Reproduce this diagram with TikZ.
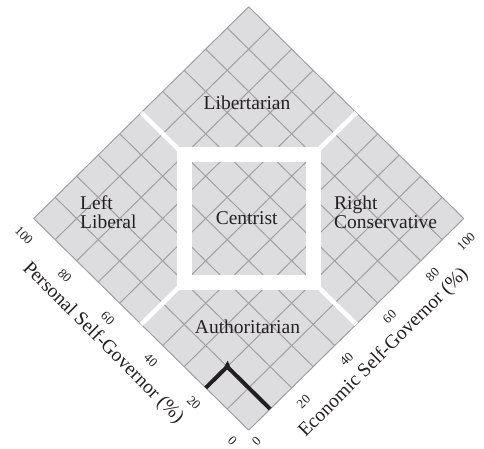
\documentclass[tikz,border=0pt]{standalone}
\usepackage{fontspec}
\setmainfont{Liberation Serif}
\usepackage[rgb]{xcolor}
\usetikzlibrary{positioning}
\definecolor{chartfill}{RGB}{221,221,223}
\definecolor{gridgray}{RGB}{160,160,162}
\definecolor{inkblack}{RGB}{35,31,32}

\begin{document}
\begin{tikzpicture}[x=1bp,y=1bp,
    region/.style={inner sep=0pt, text=inkblack, font=\fontsize{19.5bp}{18.5bp}\selectfont},
    ticklabel/.style={inner sep=0pt, text=inkblack, font=\fontsize{13bp}{13bp}\selectfont},
    axistitle/.style={inner sep=0pt, text=inkblack, font=\fontsize{19.5bp}{20bp}\selectfont},
    gridline/.style={draw=gridgray, line width=1bp},
    gap/.style={draw=white, line width=4.5bp}]
    \useasboundingbox (0,0) rectangle (484,449);
    \coordinate (o) at (248.7,18.8);
    % chart in (economic, personal) units
    \begin{scope}[shift={(o)}, x={(21.5bp,21.17bp)}, y={(-21.5bp,21.17bp)}]
        \fill[chartfill] (0,0) -- (10,0) -- (10,10) -- (0,10) -- cycle;
        \foreach \i in {0,...,10}{
            \draw[gridline] (\i,0) -- (\i,10);
            \draw[gridline] (0,\i) -- (10,\i);
        }
        % centrist box and borders
        \draw[gap, line width=15bp, line join=miter] (5,8) -- (8,5) -- (5,2) -- (2,5) -- cycle;
        \draw[gap] (5,8) -- (5,10);
        \draw[gap] (8,5) -- (10,5);
        \draw[gap] (5,2) -- (5,0);
        \draw[gap] (2,5) -- (0,5);
        % scale numbers (s = shift along the edge, d = distance out)
        \foreach \t/\s/\d [evaluate=\t as \lab using int(10*\t)] in {0/0.2/0.63,2/0/0.63,4/0/0.63,6/0/0.63,8/0/0.63,10/-0.1/0.63}{
            \node[ticklabel, rotate=-45] at (-\d,\t-0.075+\s) {\lab};
        }
        \foreach \t/\s/\d [evaluate=\t as \lab using int(10*\t)] in {0/-0.04/0.45,2/0/0.6,4/0/0.6,6/0/0.6,8/0/0.6,10/-0.44/0.6}{
            \node[ticklabel, rotate=45] at (\t-0.05+\s,-\d) {\lab};
        }
        \node[axistitle, rotate=-45] (personal) at (-1.33,5.45) {Personal Self-Governor (\%)};
        \node[axistitle, rotate=45] (economic) at (4.97,-1.31) {Economic Self-Governor (\%)};
        % sample score
        \coordinate (pick) at (1,2);
        \draw[inkblack, line width=4bp, line join=miter] (0,2) -- (pick) -- (1,0);
        \fill[inkblack] (pick) ++(-3bp,0bp) -- ++(3.5bp,6bp) -- ++(2.5bp,-6bp) -- cycle;
    \end{scope}
    \node[region, anchor=base] (libertarian) at (247,339) {Libertarian};
    \node[region, anchor=base] (centrist) at (246.7,224) {Centrist};
    \node[region, anchor=base] (authoritarian) at (247.5,115.7) {Authoritarian};
    \node[region, anchor=base west, align=left] (leftlib) at (80,220.5) {Left\\Liberal};
    \node[region, anchor=base west, align=left] (rightcons) at (334,220.5) {Right\\Conservative};
\end{tikzpicture}
\end{document}
